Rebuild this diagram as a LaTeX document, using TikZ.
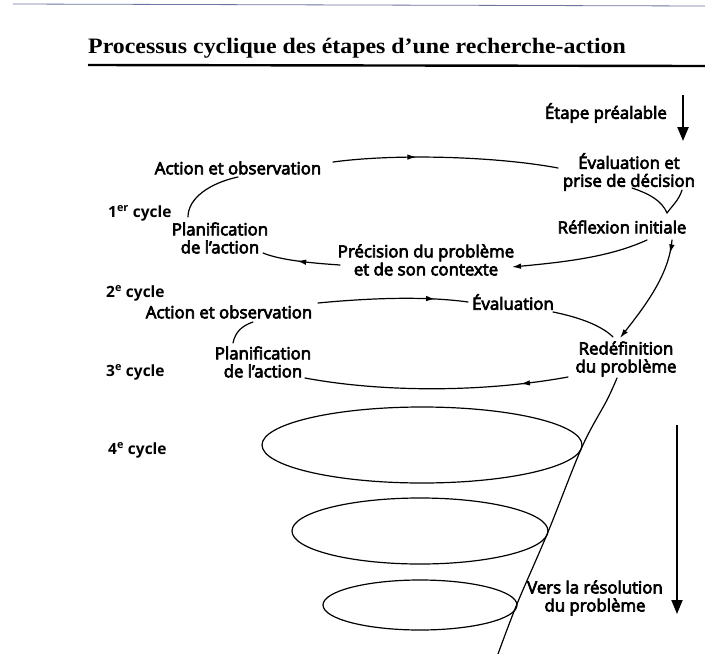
\documentclass[tikz,border=0pt]{standalone}
\usepackage{fontspec}
\setmainfont{Open Sans}
\newfontfamily\labfont{Open Sans}[RawFeature={embolden=4}]
\newfontfamily\titlefont{Liberation Serif}
\usetikzlibrary{arrows.meta,decorations.markings}

\tikzset{
  lbl/.style={font=\labfont\fontsize{16.8}{18}\selectfont, align=center, inner sep=0pt},
  cyc/.style={font=\bfseries\fontsize{15.5}{17}\selectfont, anchor=west, inner sep=0pt},
  conn/.style={line width=1.2pt, line cap=round},
  tipend/.style={-{Latex[length=9pt,width=5.5pt]}},
  midarrow/.style={postaction={decorate}, decoration={markings,
      mark=at position #1 with {\arrow{Latex[length=9pt,width=5.5pt]}}}},
  bigarrow/.style={line width=2.4pt, -{Triangle[length=14pt,width=11pt]}},
  loop/.style={line width=1.2pt}
}

\begin{document}
\begin{tikzpicture}[x=1pt,y=-1pt]
  \fill[white] (0,0) rectangle (705,654);
  \useasboundingbox (0,0) rectangle (705,654);

  % page edge and title with its rule
  \draw[line width=0.8pt, color={rgb,255:red,110;green,115;blue,160}] (13,4) -- (705,6);
  \node[inner sep=0pt, anchor=base west, font=\titlefont\bfseries\fontsize{22}{24}\selectfont]
    (title) at (88,53) {\scalebox{1.085}[1]{Processus cyclique des étapes d’une recherche-action}};
  \draw[line width=2.4pt] (88,65) -- (705,66);

  % labels of the first cycle
  \node[lbl, anchor=east] (etape) at (667,113) {Étape préalable};
  \node[lbl] (eval1) at (629,172) {Évaluation et\\prise de décision};
  \node[lbl] (refl) at (622,227) {Réflexion initiale};
  \node[lbl] (act1) at (238,168) {Action et observation};
  \node[lbl] (plan1) at (220,238) {Planification\\de l’action};
  \node[lbl] (prec) at (426,260) {Précision du problème\\et de son contexte};

  % labels of the second and third cycles
  \node[lbl] (act2) at (229,312) {Action et observation};
  \node[lbl] (eval2) at (513,302) {Évaluation};
  \node[lbl] (plan2) at (263,362) {Planification\\de l’action};
  \node[lbl] (redef) at (626,359) {Redéfinition\\du problème};
  \node[lbl] (vers) at (595,598) {Vers la résolution\\du problème};

  % cycle numbers
  \node[cyc] (cyc1) at (108,213) {1\textsuperscript{er} cycle};
  \node[cyc] (cyc2) at (106,293) {2\textsuperscript{e} cycle};
  \node[cyc] (cyc3) at (106,372) {3\textsuperscript{e} cycle};
  \node[cyc] (cyc4) at (108,450) {4\textsuperscript{e} cycle};

  % preliminary step arrow
  \coordinate (pre0) at (683,95);
  \coordinate (pre1) at (683,141);
  \draw[bigarrow] (pre0) -- (pre1);

  % first cycle
  \draw[conn, midarrow=0.37] ([shift={(95,-6)}]act1.center)
    .. controls (400,153) and (500,157) .. ([shift={(-71,-4)}]eval1.center);
  \draw[conn] ([shift={(3,16)}]eval1.center)
    .. controls (650,194) and (662,201) .. ([shift={(45,-14)}]refl.center);
  \draw[conn] ([shift={(53,18)}]eval1.center)
    .. controls (679,200) and (672,206) .. ([shift={(45,-14)}]refl.center);
  \draw[conn, tipend] ([shift={(25,13)}]refl.center)
    .. controls (610,257) and (565,262) .. ([shift={(86,7)}]prec.center);
  \draw[conn, midarrow=0.55] ([shift={(-86,5)}]prec.center)
    .. controls (310,263) and (280,260) .. ([shift={(43,15)}]plan1.center);
  \draw[conn] ([shift={(-32,-21)}]plan1.center)
    .. controls (188,198) and (210,183) .. ([shift={(0,9)}]act1.center);

  % passage to the second cycle
  \draw[conn, tipend, midarrow=0.12] ([shift={(50,13)}]refl.center)
    .. controls (669,275) and (645,306) .. ([shift={(-6,-21)}]redef.center);

  % second cycle
  \draw[conn, midarrow=0.78] ([shift={(89,-9)}]act2.center)
    .. controls (370,298) and (425,296) .. ([shift={(-45,0)}]eval2.center);
  \draw[conn] ([shift={(40,10)}]eval2.center)
    .. controls (583,318) and (603,327) .. ([shift={(-13,-22)}]redef.center);
  \draw[conn, midarrow=0.18] ([shift={(-58,18)}]redef.center)
    .. controls (480,393) and (380,392) .. ([shift={(42,16)}]plan2.center);
  \draw[conn] ([shift={(-30,-19)}]plan2.center)
    .. controls (235,333) and (241,326) .. ([shift={(24,10)}]act2.center);

  % descending spiral and later cycles
  \coordinate (sp0) at ([shift={(-9,19)}]redef.center);
  \coordinate (spend) at (498,654);
  \draw[conn] plot[smooth, tension=0.55] coordinates
    {(sp0) (607,400) (582,447) (548,532) (517,604) (spend)};
  \draw[loop] (422,445) ellipse [x radius=160, y radius=38];
  \draw[loop] (420,531) ellipse [x radius=128, y radius=33];
  \draw[loop] (420,605) ellipse [x radius=97, y radius=25];

  % towards the resolution
  \coordinate (res0) at (677,425);
  \coordinate (res1) at (677,614);
  \draw[bigarrow, line width=2pt] (res0) -- (res1);
\end{tikzpicture}
\end{document}
